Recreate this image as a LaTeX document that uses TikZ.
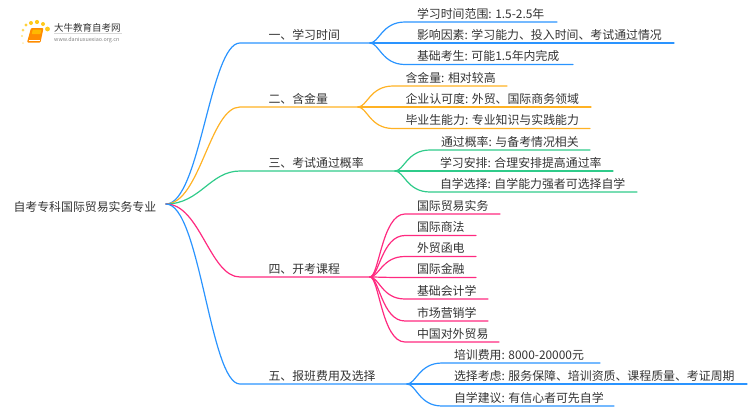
\documentclass[tikz,border=0pt]{standalone}
\usepackage{fontspec}
\setmainfont{Noto Sans CJK SC}
\definecolor{cblue}{HTML}{2A94FF}
\definecolor{corange}{HTML}{FFB224}
\definecolor{cgreen}{HTML}{2FCB8A}
\definecolor{cpink}{HTML}{FF2A80}
\definecolor{ctext}{HTML}{333333}
\tikzset{
  lab/.style={anchor=base west,inner sep=0pt,outer sep=0pt,font=\fontsize{11.9}{14}\selectfont,text=ctext},
  link/.style={line width=1.2pt,line cap=round},
  logodot/.style={fill=#1,draw=none},
}
% \branchto{name}{colour}{y}{hub x}{text}
\newcommand{\branchto}[5]{%
  \coordinate (#1h) at (#4,#3);
  \coordinate (#1c) at (240,#3);
  \node[lab] (#1) at (268.5,#3-3.6) {#5};
  \draw[link,#2] (root) .. controls (200,204) and (210,#3) .. (#1c) -- (#1h);
}
% \leafto{name}{hub}{colour}{y}{text x}{end x}{text}
\newcommand{\leafto}[7]{%
  \node[lab] (#1) at (#5,#4-3.6) {#7};
  \coordinate (#1e) at (#6,#4);
  \draw[link,#3] (#2h) .. controls ([xshift=9pt]#2h) and ($(#2h|-#1e)+(12,0)$) .. ($(#2h|-#1e)+(35,0)$) -- (#1e);
}
\usetikzlibrary{calc}
\begin{document}
\begin{tikzpicture}[x=1pt,y=-1pt]
\useasboundingbox (0,0) rectangle (750,410);
% logo
\foreach \px/\py/\pr/\po in {23/43/1/.35,22/36/1.2/.55,23/30/1.5/.7,26/25/1.7/.85,31/23/2/1,37/22/2.1/1,43/24/2/1,47.5/29/2.4/1}
  \fill[logodot={corange!70!yellow},opacity=\po] (\px,\py) circle[radius=\pr];
\fill[orange!90!yellow,rounded corners=1pt] (31,28) -- (43.5,28) -- (40.5,42.5) -- (27,42.5) -- cycle;
\fill[orange!55!yellow,rounded corners=.6pt] (32.8,29.5) -- (41.5,29.5) -- (40.5,34) -- (31.8,34) -- cycle;
\draw[white,line width=.6pt] (28.5,40.5) -- (40,40.5);
\node[anchor=base west,inner sep=0pt,font=\fontsize{9.5}{11}\selectfont,text=ctext] (logotitle) at (54,31) {大牛教育自考网};
\node[anchor=base west,inner sep=0pt,font=\fontsize{5.4}{7}\selectfont,text=gray] (logourl) at (54,41) {www.daniuxuexiao.org.cn};
\draw[black!15,line width=.5pt] (54,33.4) -- (122,33.4);
% root
\node[lab] (roottext) at (13.5,211) {自考专科国际贸易实务专业};
\coordinate (root) at (166,204);
% branches
\branchto{a}{cblue}{43}{370}{一、学习时间}
\branchto{b}{corange}{107}{358}{二、含金量}
\branchto{c}{cgreen}{171}{395}{三、考试通过概率}
\branchto{d}{cpink}{277}{370}{四、开考课程}
\branchto{e}{cblue}{384}{407}{五、报班费用及选择}
% leaves
\leafto{a1}{a}{cblue}{22}{417}{557}{学习时间范围: 1.5-2.5年}
\leafto{a2}{a}{cblue}{43}{417}{674}{影响因素: 学习能力、投入时间、考试通过情况}
\leafto{a3}{a}{cblue}{64.5}{417}{573}{基础考生: 可能1.5年内完成}
\leafto{b1}{b}{corange}{86}{405.5}{507}{含金量: 相对较高}
\leafto{b2}{b}{corange}{107}{405.5}{591}{企业认可度: 外贸、国际商务领域}
\leafto{b3}{b}{corange}{128.5}{405.5}{590}{毕业生能力: 专业知识与实践能力}
\leafto{c1}{c}{cgreen}{150}{441}{590}{通过概率: 与备考情况相关}
\leafto{c2}{c}{cgreen}{171}{440}{613}{学习安排: 合理安排提高通过率}
\leafto{c3}{c}{cgreen}{192}{440}{637}{自学选择: 自学能力强者可选择自学}
\leafto{d1}{d}{cpink}{214}{417}{500}{国际贸易实务}
\leafto{d2}{d}{cpink}{235.5}{417}{476}{国际商法}
\leafto{d3}{d}{cpink}{256.5}{417}{476}{外贸函电}
\leafto{d4}{d}{cpink}{277.5}{417}{476}{国际金融}
\leafto{d5}{d}{cpink}{299}{417}{488}{基础会计学}
\leafto{d6}{d}{cpink}{321}{417}{488}{市场营销学}
\leafto{d7}{d}{cpink}{342}{417}{499}{中国对外贸易}
\leafto{e1}{e}{cblue}{363}{454}{600}{培训费用: 8000-20000元}
\leafto{e2}{e}{cblue}{384}{454}{747}{选择考虑: 服务保障、培训资质、课程质量、考证周期}
\leafto{e3}{e}{cblue}{406}{454}{614}{自学建议: 有信心者可先自学}
\end{tikzpicture}
\end{document}
